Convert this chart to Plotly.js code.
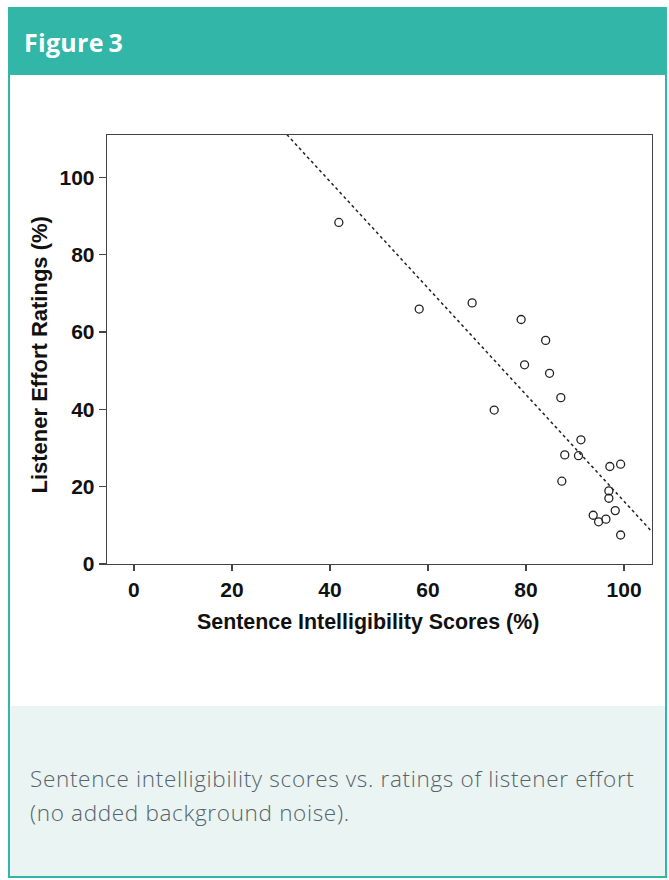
<!DOCTYPE html>
<html>
<head>
<meta charset="utf-8">
<script src="https://cdn.plot.ly/plotly-3.0.1.min.js"></script>
<style>
  html, body { margin:0; padding:0; background:#ffffff; }
  body { width:669px; height:880px; position:relative; overflow:hidden; }
  #card { position:absolute; left:8px; top:7px; width:655px; height:867px; border:2px solid #31B6A8; }
  #head { position:absolute; left:8px; top:7px; width:659px; height:68px; background:#31B6A8; }
  #head span { position:absolute; left:16px; top:23px; font-family:"Open Sans", Lato, sans-serif; font-weight:700; font-size:25px; line-height:25px; color:#ffffff; letter-spacing:0.3px; word-spacing:-2px; white-space:nowrap; }
  #cap { position:absolute; left:10px; top:706px; width:655px; height:170px; background:#EAF4F2; }
  #cap p { position:absolute; left:20px; top:56px; margin:0; width:645px; font-family:"Open Sans", Lato, sans-serif; font-weight:300; font-size:22.5px; line-height:34px; color:#56636C; letter-spacing:0.67px; white-space:nowrap; }
  #plot { position:absolute; left:0; top:0; width:669px; height:880px; }
</style>
</head>
<body>
<div id="card"></div>
<div id="head"><span>Figure 3</span></div>
<div id="cap"><p>Sentence intelligibility scores vs. ratings of listener effort<br>(no added background noise).</p></div>
<div id="plot"></div>
<script>
// Sentence intelligibility scores (%) per speaker
const intelligibility = [41.8, 58.2, 69.0, 73.5, 79.0, 79.7, 84.0, 84.8, 87.1, 87.3, 87.9, 90.7, 91.2, 93.7, 94.8, 96.3, 96.9, 96.9, 97.1, 98.2, 99.3, 99.3];
// Listener effort ratings (%) per speaker
const effort = [88.3, 65.9, 67.5, 39.8, 63.2, 51.5, 57.8, 49.3, 43.0, 21.4, 28.2, 28.0, 32.1, 12.6, 10.9, 11.6, 18.9, 17.0, 25.2, 13.8, 25.8, 7.5];
// Fitted regression line endpoints
const fitX = [31.2, 105.8];
const fitY = [111.0, 8.2];
// Tick values and axis titles
const xTicks = [0, 20, 40, 60, 80, 100];
const yTicks = [0, 20, 40, 60, 80, 100];
const xTitle = 'Sentence Intelligibility Scores (%)';
const yTitle = 'Listener Effort Ratings (%)';

const fam = 'Arial, "Liberation Sans", sans-serif';
const tickFont = {family: fam, size: 21, color: '#111', weight: 'bold'};
const xTitleFont = {family: fam, size: 21.4, color: '#111', weight: 'bold'};
const yTitleFont = {family: fam, size: 22, color: '#111', weight: 'bold'};

const traces = [
  {
    x: fitX, y: fitY, mode: 'lines', type: 'scatter',
    line: {color: '#222', width: 1.5, dash: 'dot'},
    hoverinfo: 'skip', showlegend: false
  },
  {
    x: intelligibility, y: effort, mode: 'markers', type: 'scatter',
    marker: {symbol: 'circle-open', size: 8, color: '#222', line: {width: 1.3}},
    showlegend: false
  }
];

const layout = {
  width: 669, height: 880,
  paper_bgcolor: 'rgba(0,0,0,0)',
  plot_bgcolor: 'rgba(0,0,0,0)',
  margin: {l: 107, r: 17, t: 135, b: 316, pad: 0},
  showlegend: false,
  xaxis: {
    range: [-5.5, 105.7], tickvals: xTicks, ticktext: xTicks.map(String),
    showline: true, mirror: true, linecolor: '#444', linewidth: 1.3,
    ticks: 'outside', ticklen: 6, tickwidth: 1.3, tickcolor: '#444',
    showgrid: false, zeroline: false,
    tickfont: tickFont,
    automargin: false
  },
  yaxis: {
    range: [0, 110.9], tickvals: yTicks, ticktext: yTicks.map(String),
    showline: true, mirror: true, linecolor: '#444', linewidth: 1.3,
    ticks: 'outside', ticklen: 7, tickwidth: 1.3, tickcolor: '#444',
    showgrid: false, zeroline: false,
    tickfont: tickFont,
    automargin: false
  },
  annotations: [
    {text: xTitle, xref: 'paper', yref: 'paper', x: 0.4798, y: -0.135,
     xanchor: 'center', yanchor: 'middle', showarrow: false, font: xTitleFont},
    {text: yTitle, xref: 'paper', yref: 'paper', x: -0.1239, y: 0.487,
     xanchor: 'center', yanchor: 'middle', showarrow: false, textangle: -90, font: yTitleFont}
  ]
};

Plotly.newPlot('plot', traces, layout, {staticPlot: true, displayModeBar: false});
</script>
</body>
</html>
